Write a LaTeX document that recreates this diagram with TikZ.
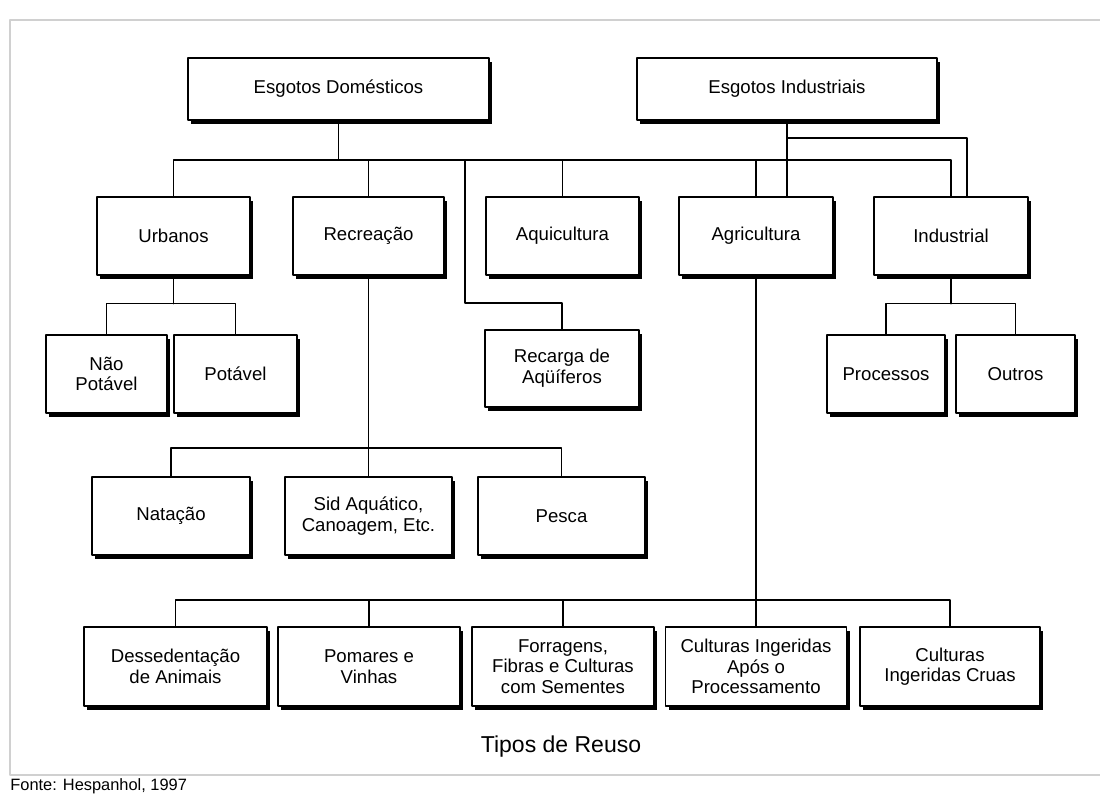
\documentclass[tikz,border=0pt]{standalone}
\usepackage{fontspec}
\setmainfont{Liberation Sans}
\usepackage{xcolor}
\definecolor{moldura}{RGB}{208,208,208}
\usetikzlibrary{shadows,calc}

\begin{document}
\begin{tikzpicture}
	[line cap=round,line join=round,x=0.5pt,y=-0.5pt,
	caixa/.style={draw,line width=0.75pt,fill=white,align=center,inner sep=0pt,
		font=\fontsize{9.3}{10.3}\selectfont,
		drop shadow={shadow xshift=1.6pt,shadow yshift=-1.8pt,fill=black,opacity=1}},
	liga/.style={line width=0.75pt}]
	\useasboundingbox (0,0) rectangle (1100,795);
	\draw [moldura,line width=1.4pt] (1100,20) -- (10,20) -- (10,775) -- (1100,775);
	% origens
	\node[caixa,minimum width=150.5pt,minimum height=31pt] (dom) at (338.5,89) {Esgotos Domésticos};
	\node[caixa,minimum width=150pt,minimum height=31pt] (ind) at (787,89) {Esgotos Industriais};
	% tipos de reuso
	\node[caixa,minimum width=76.5pt,minimum height=39pt] (urb) at (173.5,236) {Urbanos};
	\node[caixa,minimum width=75.5pt,minimum height=39pt] (rec) at (368.5,236) {Recreação};
	\node[caixa,minimum width=76.5pt,minimum height=39pt] (aqu) at (562.5,236) {Aquicultura};
	\node[caixa,minimum width=77pt,minimum height=39pt] (agr) at (756,236) {Agricultura};
	\node[caixa,minimum width=77pt,minimum height=39pt] (indu) at (951,236) {Industrial};
	\node[caixa,minimum width=60.5pt,minimum height=39pt] (nao) at (106.5,374) {Não\\Potável};
	\node[caixa,minimum width=61.5pt,minimum height=39pt] (pot) at (235.5,374) {Potável};
	\node[caixa,minimum width=77pt,minimum height=38.5pt] (rcg) at (562,368.5) {Recarga de\\Aqüíferos};
	\node[caixa,minimum width=59pt,minimum height=39pt] (proc) at (886,374) {Processos};
	\node[caixa,minimum width=59.5pt,minimum height=39pt] (out) at (1015.5,374) {Outros};
	\node[caixa,minimum width=79pt,minimum height=39pt] (nat) at (171,516) {Natação};
	\node[caixa,minimum width=83.5pt,minimum height=39pt] (sid) at (368.5,516) {Sid Aquático,\\Canoagem, Etc.};
	\node[caixa,minimum width=83.5pt,minimum height=39pt] (pes) at (561.5,516) {Pesca};
	\node[caixa,minimum width=91.5pt,minimum height=39.5pt] (des) at (175.5,666.5) {Dessedentação\\de Animais};
	\node[caixa,minimum width=91pt,minimum height=39.5pt] (pom) at (369,666.5) {Pomares e\\Vinhas};
	\node[caixa,minimum width=91pt,minimum height=39.5pt] (for) at (563,666.5) {Forragens,\\Fibras e Culturas\\com Sementes};
	\node[caixa,minimum width=90.5pt,minimum height=39.5pt] (cip) at (756,666.5) {Culturas Ingeridas\\Após o\\Processamento};
	\node[caixa,minimum width=90pt,minimum height=39.5pt] (cic) at (950,666.5) {Culturas\\Ingeridas Cruas};
	\node[font=\fontsize{11.5}{13}\selectfont] (titulo) at (561,747) {Tipos de Reuso};
	\node[anchor=west,inner sep=0pt,font=\fontsize{8.2}{9}\selectfont] (fonte) at (10,786) {Fonte: Hespanhol, 1997};
	% ligacoes
	\coordinate (bus1) at (338.5,160);
	\draw [liga] (dom.south) -- (bus1);
	\draw [liga] (urb.north) |- (bus1) -| (indu.north);
	\draw [liga] (rec.north) -- (rec.north |- bus1);
	\draw [liga] (aqu.north) -- (aqu.north |- bus1);
	\draw [liga] (agr.north) -- (agr.north |- bus1);
	\draw [liga] (ind.south) -- (ind.south |- agr.north);
	\draw [liga] (ind.south |- 0,138) -| ($(indu.north)+(16,0)$);
	\draw [liga] (465,160) -- ++(0,143) -| (rcg.north);
	\draw [liga] (urb.south) -- ++(0,28) coordinate (uj);
	\draw [liga] (nao.north) |- (uj) -| (pot.north);
	\draw [liga] (indu.south) -- ++(0,28) coordinate (ij);
	\draw [liga] (proc.north) |- (ij) -| (out.north);
	\draw [liga] (rec.south) -- (sid.north);
	\draw [liga] (nat.north) |- ($(sid.north)+(0,-28)$) -| (pes.north);
	\draw [liga] (agr.south) -- (cip.north);
	\draw [liga] (des.north) |- ($(cip.north)+(0,-26)$) -| (cic.north);
	\draw [liga] (pom.north) -- ++(0,-26);
	\draw [liga] (for.north) -- ++(0,-26);
\end{tikzpicture}
\end{document}
